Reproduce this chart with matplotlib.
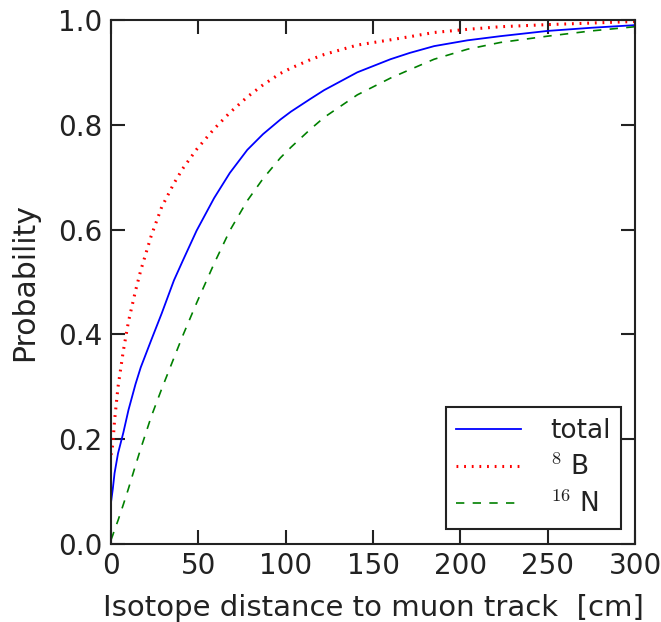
import matplotlib
matplotlib.use('Agg')
import matplotlib.pyplot as plt

plt.rcParams['mathtext.fontset'] = 'cm'
plt.rcParams['lines.scale_dashes'] = False

# distance to muon track [cm]
distance = [0, 1, 2, 4, 7, 10, 14, 17, 23, 29, 36, 41, 49, 59, 68, 78, 87, 97,
            103, 114, 122, 141, 160, 171, 185, 204, 223, 250, 275, 300]

# cumulative probabilities
prob_total = [0.08, 0.105, 0.135, 0.173, 0.212, 0.256, 0.305, 0.337, 0.389,
              0.44, 0.503, 0.54, 0.598, 0.66, 0.708, 0.752, 0.782, 0.81,
              0.825, 0.849, 0.866, 0.90, 0.925, 0.937, 0.95, 0.961, 0.969,
              0.979, 0.985, 0.99]
prob_b8 = [0.17, 0.19, 0.235, 0.30, 0.368, 0.425, 0.483, 0.522, 0.588, 0.643,
           0.688, 0.716, 0.753, 0.792, 0.823, 0.853, 0.876, 0.898, 0.908, 0.924,
           0.934, 0.952, 0.962, 0.968, 0.976, 0.982, 0.987, 0.991, 0.994, 0.997]
prob_n16 = [0.008, 0.017, 0.027, 0.045, 0.075, 0.106, 0.15, 0.182, 0.243,
            0.296, 0.355, 0.397, 0.46, 0.535, 0.598, 0.655, 0.697, 0.737,
            0.757, 0.791, 0.814, 0.857, 0.889, 0.905, 0.925, 0.944, 0.957,
            0.969, 0.979, 0.987]

labels = ['total', r'$^{8}$ B', r'$^{16}$ N']
xticks = [0, 50, 100, 150, 200, 250, 300]
yticks = [0.0, 0.2, 0.4, 0.6, 0.8, 1.0]

dark = '#222222'

fig = plt.figure(figsize=(6.61, 6.22), dpi=100)
ax = fig.add_axes([0.168, 0.1254, 0.7927, 0.8426])

ax.plot(distance, prob_total, color='blue', lw=1.3, label=labels[0])
ax.plot(distance, prob_b8, color='red', lw=2.2, linestyle=(0, (1.3, 4.2)), label=labels[1])
ax.plot(distance, prob_n16, color='green', lw=1.2, linestyle=(0, (6, 6)), label=labels[2])

ax.set_xlim(0, 300)
ax.set_ylim(0, 1)
ax.set_xticks(xticks)
ax.set_yticks(yticks)
ax.set_yticklabels([f'{v:.1f}' for v in yticks])

ax.tick_params(direction='in', top=True, right=True, length=10, width=1.5,
               labelsize=20, colors=dark, pad=6)
for sp in ax.spines.values():
    sp.set_linewidth(1.5)
    sp.set_color(dark)

ax.set_xlabel('Isotope distance to muon track  [cm]', fontsize=21, color=dark, labelpad=10)
ax.set_ylabel('Probability', fontsize=21.5, color=dark, labelpad=14)

leg = ax.legend(loc='lower right', bbox_to_anchor=(0.973, 0.029), borderaxespad=0,
                fontsize=19, handlelength=2.45, handletextpad=1.1, labelspacing=0.4,
                fancybox=False, framealpha=1, borderpad=0.4)
leg.get_frame().set_edgecolor(dark)
leg.get_frame().set_linewidth(1.5)
for t in leg.get_texts():
    t.set_color(dark)

fig.savefig('out.png', dpi=100)
